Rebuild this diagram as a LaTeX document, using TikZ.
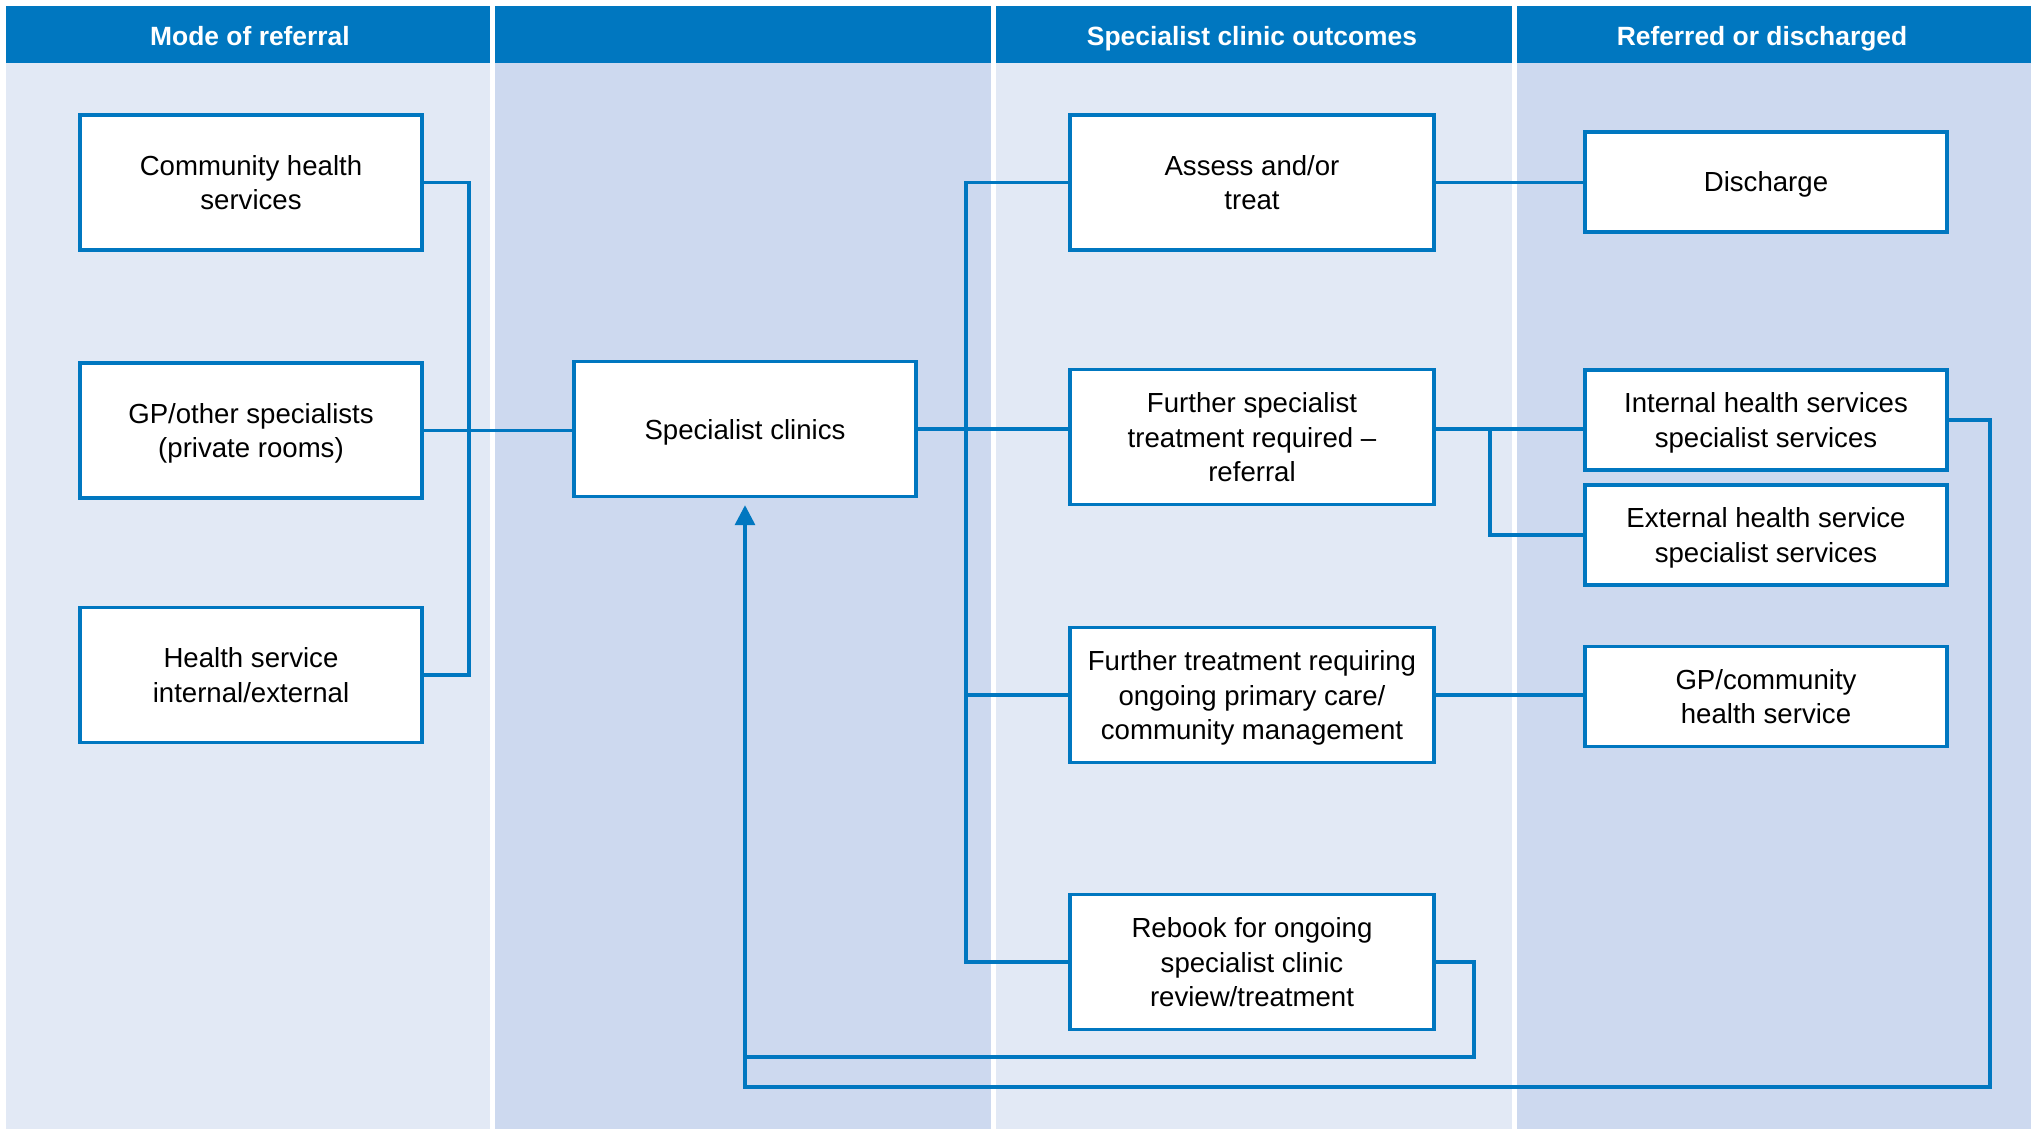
\documentclass[tikz,border=0pt]{standalone}
\usepackage{fontspec}
\setmainfont{Liberation Sans}
\usetikzlibrary{arrows.meta}
\definecolor{headblue}{RGB}{0, 119, 192}
\definecolor{lightcol}{RGB}{226, 233, 245}
\definecolor{darkcol}{RGB}{205, 217, 239}

\begin{document}
\begin{tikzpicture}[x=0.5pt, y=-0.5pt,
  box/.style={draw=headblue, line width=1.7pt, fill=white, align=center,
    inner sep=0pt, text depth=-4.5pt, font=\fontsize{13.8}{17.3}\selectfont},
  srcbox/.style={box, minimum width=171pt, minimum height=67.5pt},
  outbox/.style={box, minimum width=182pt, minimum height=67.5pt},
  endbox/.style={box, minimum width=181pt, minimum height=50pt},
  head/.style={anchor=base, text=white, font=\fontsize{13.2}{16}\selectfont\bfseries},
  link/.style={draw=headblue, line width=1.7pt}]

  \useasboundingbox (0, 0) rectangle (2031, 1129);

  % columns and header bands
  \foreach \xa/\xb/\shade in {6/490/lightcol, 495/991/darkcol,
                               996/1512/lightcol, 1517/2031/darkcol} {
    \fill[\shade]    (\xa, 63) rectangle (\xb, 1129);
    \fill[headblue]  (\xa, 6)  rectangle (\xb, 63);
  }

  \node[head] (hmode) at (250, 46)  {Mode of referral};
  \node[head] (hout)  at (1252, 46) {Specialist clinic outcomes};
  \node[head] (hend)  at (1762, 46) {Referred or discharged};

  % mode of referral
  \node[srcbox] (CH) at (251, 182.5) {Community health\\services};
  \node[srcbox] (GP) at (251, 430.5) {GP/other specialists\\(private rooms)};
  \node[srcbox] (HS) at (251, 675)   {Health service\\internal/external};

  \node[srcbox] (SC) at (745, 429) {Specialist clinics};

  % outcomes
  \node[outbox] (AT) at (1252, 182.5) {Assess and/or\\treat};
  \node[outbox] (FS) at (1252, 437)   {Further specialist\\treatment required --\\referral};
  \node[outbox] (FT) at (1252, 695)   {Further treatment requiring\\ongoing primary care/\\community management};
  \node[outbox] (RB) at (1252, 962)   {Rebook for ongoing\\specialist clinic\\review/treatment};

  % referred or discharged
  \node[endbox] (DC) at (1766, 182)   {Discharge};
  \node[endbox] (IH) at (1766, 420)   {Internal health services\\specialist services};
  \node[endbox] (EH) at (1766, 535)   {External health service\\specialist services};
  \node[endbox] (GC) at (1766, 696.5) {GP/community\\health service};

  \coordinate (lbus)  at (469, 0);
  \coordinate (rbus)  at (966, 0);
  \coordinate (ebus)  at (1490, 0);
  \coordinate (rbend) at (1474, 1057);
  \coordinate (obend) at (1990, 1087);

  \draw[link] (CH.east) -- (CH.east -| lbus) -- (HS.east -| lbus) -- (HS.east);
  \draw[link] (GP.east) -- (GP.east -| SC.west);

  \draw[link] (AT.west) -- (AT.west -| rbus) -- (RB.west -| rbus) -- (RB.west);
  \draw[link] (SC.east) -- (SC.east -| FS.west);
  \draw[link] (FT.west -| rbus) -- (FT.west);

  \draw[link] (AT.east) -- (AT.east -| DC.west);
  \draw[link] (FS.east |- SC.east) -- (IH.west |- SC.east);
  \draw[link] (ebus |- SC.east) -- (ebus |- EH.west) -- (EH.west);
  \draw[link] (FT.east) -- (FT.east -| GC.west);

  % back to the clinics
  \draw[link] (RB.east) -| (rbend) -- (rbend -| SC.south);
  \draw[link, -{Triangle[length=10pt, width=10pt]}, shorten >=3.5pt]
    (IH.east) -| (obend) -- (obend -| SC.south) -- (SC.south);

\end{tikzpicture}
\end{document}
